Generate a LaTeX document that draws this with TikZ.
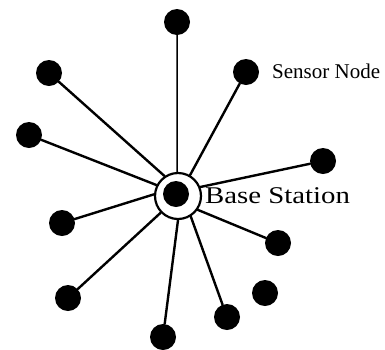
\documentclass[tikz,border=0pt]{standalone}
\usepackage{fontspec}
\setmainfont{Liberation Serif}
\begin{document}
\begin{tikzpicture}[x=1pt,y=-1pt,
  sensor/.style={circle,fill=black,minimum size=26pt,inner sep=0pt},
  ring/.style={circle,draw=black,line width=2.2pt,minimum size=46pt,inner sep=0pt},
  link/.style={draw=black,line width=2.4pt,line cap=round},
  thinlink/.style={draw=black,line width=1.5pt}]
\useasboundingbox (0,0) rectangle (385,349);

% base station: ring with a dot inside
\node[ring] (bs) at (178,196) {};
\node[sensor] (bsdot) at (176,194) {};

% sensor nodes
\node[sensor] (s1) at (177,22) {};
\node[sensor] (s2) at (49,73) {};
\node[sensor] (s3) at (246,72) {};
\node[sensor] (s4) at (29,135) {};
\node[sensor] (s5) at (323,161) {};
\node[sensor] (s6) at (62,223) {};
\node[sensor] (s7) at (278,243) {};
\node[sensor] (s8) at (265,293) {};
\node[sensor] (s9) at (68,298) {};
\node[sensor] (s10) at (227,317) {};
\node[sensor] (s11) at (163,337) {};

% links to the base station
\draw[thinlink] (s1) -- (bs.92);
\draw[link] (s2) -- (bs.124);
\draw[link] (s3) -- (bs.60);
\draw[link] (s4) -- (bs.153);
\draw[link] (s5) -- (bs.22);
\draw[link] (s6) -- (bs.176);
\draw[link] (s7) -- (bs.-35);
\draw[link] (s9) -- (bs.-136);
\draw[link] (s10) -- (bs.-58);
\draw[link] (s11) -- (bs.-90);

% labels
\node[anchor=base west,inner sep=0pt,font=\fontsize{24}{24}\selectfont] (bslabel) at (205,203) {\scalebox{1.2}[1]{Base Station}};
\node[anchor=base west,inner sep=0pt,font=\fontsize{21}{21}\selectfont] (snlabel) at (272,78) {Sensor Node};
\end{tikzpicture}
\end{document}
